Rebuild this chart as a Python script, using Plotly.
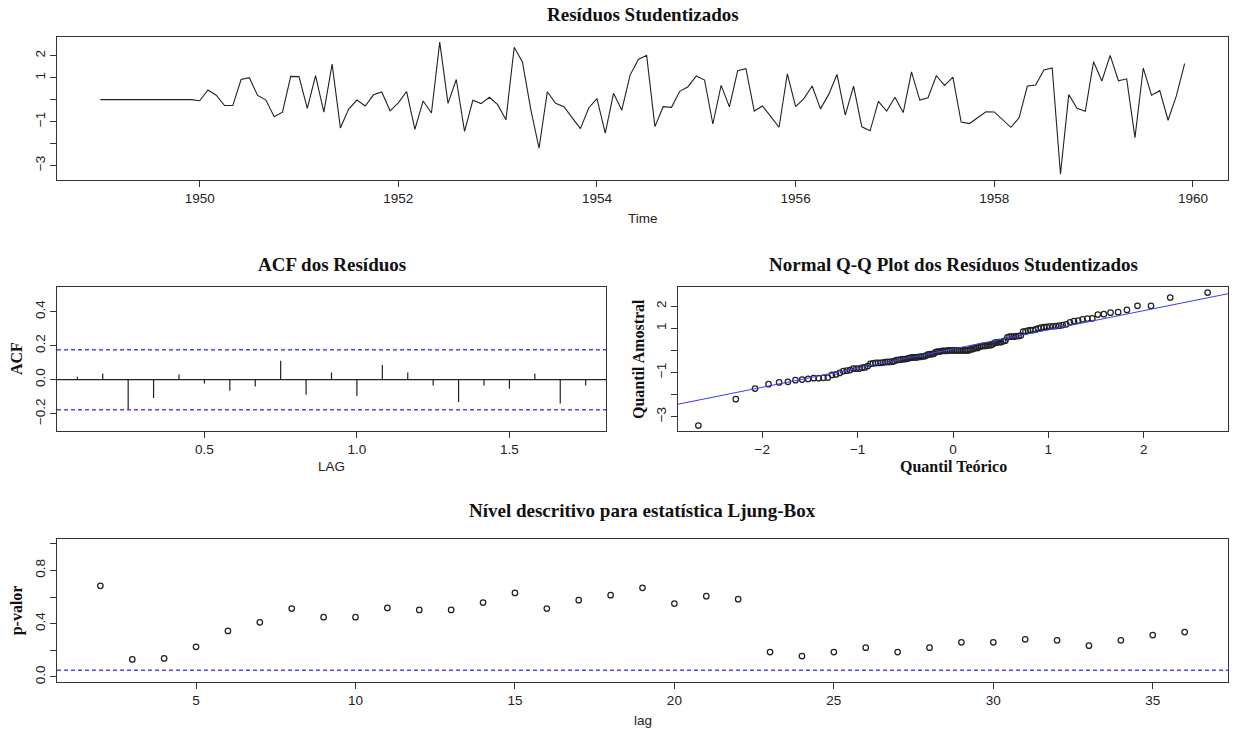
import numpy as np
import plotly.graph_objects as go
from statistics import NormalDist

# ---------------- data ----------------
ts_start = 1949
ts_freq = 12
residuals = [
    0.0, 0.0, 0.0, 0.0, 0.0, 0.0, 0.0, 0.0, 0.0, 0.0, 0.0, 0.0,
    -0.05, 0.44, 0.20, -0.27, -0.27, 0.92, 1.00, 0.19, -0.02, -0.78, -0.57, 1.06,
    1.05, -0.40, 1.10, -0.57, 1.62, -1.29, -0.43, -0.02, -0.29, 0.22, 0.35, -0.51,
    -0.15, 0.37, -1.35, -0.06, -0.61, 2.62, -0.17, 0.92, -1.45, -0.03, -0.18, 0.11,
    -0.23, -0.92, 2.39, 1.71, -0.44, -2.21, 0.36, -0.17, -0.32, -0.82, -1.32, -0.38,
    0.05, -1.53, 0.29, -0.48, 1.12, 1.83, 2.02, -1.23, -0.32, -0.35, 0.38, 0.59,
    1.08, 0.89, -1.11, 0.65, -0.33, 1.32, 1.41, -0.52, -0.29, -0.77, -1.26, 1.18,
    -0.32, 0.05, 0.62, -0.42, 0.24, 1.15, -0.71, 0.62, -1.24, -1.42, -0.08, -0.52,
    0.11, -0.59, 1.27, -0.02, 0.09, 1.09, 0.65, 1.03, -1.02, -1.09, -0.83, -0.55,
    -0.56, -0.89, -1.26, -0.83, 0.62, 0.67, 1.35, 1.45, -3.40, 0.23, -0.39, -0.53,
    1.73, 0.85, 2.02, 0.86, 0.95, -1.73, 1.44, 0.20, 0.41, -0.94, 0.17, 1.64,
]

acf_lags = [k / 12 for k in range(1, 22)]
acf_values = [0.018, 0.036, -0.174, -0.107, 0.030, -0.022, -0.065, -0.040, 0.111,
              -0.089, 0.042, -0.095, 0.087, 0.042, -0.034, -0.131, -0.034, -0.053,
              0.036, -0.139, -0.034]
acf_ci = 0.176

lb_lags = list(range(2, 37))
lb_pvalues = [0.684, 0.131, 0.138, 0.226, 0.345, 0.410, 0.513, 0.448, 0.448, 0.518,
              0.503, 0.503, 0.558, 0.631, 0.513, 0.576, 0.614, 0.669, 0.551, 0.606,
              0.584, 0.186, 0.156, 0.186, 0.219, 0.186, 0.219, 0.259, 0.259, 0.282,
              0.274, 0.234, 0.274, 0.314, 0.337]
lb_level = 0.05

time_ticks = [1950, 1952, 1954, 1956, 1958, 1960]
res_ticks = [-3, -2, -1, 0, 1, 2]
res_ticktext = ["\u22123", "", "\u22121", "", "1", "2"]
acf_xticks = [0.5, 1.0, 1.5]
acf_xticktext = ["0.5", "1.0", "1.5"]
acf_yticks = [-0.2, 0.0, 0.2, 0.4]
acf_yticktext = ["\u22120.2", "0.0", "0.2", "0.4"]
qq_xticks = [-2, -1, 0, 1, 2]
qq_xticktext = ["\u22122", "\u22121", "0", "1", "2"]
lb_xticks = [5, 10, 15, 20, 25, 30, 35]
lb_yticks = [0.0, 0.2, 0.4, 0.6, 0.8, 1.0]
lb_yticktext = ["0.0", "", "0.4", "", "0.8", ""]

# ---------------- derived ----------------
res = np.array(residuals)
n = len(res)
times = ts_start + np.arange(n) / ts_freq
nd = NormalDist()
theo = np.array([nd.inv_cdf((i + 0.5) / n) for i in range(n)])
sample_sorted = np.sort(res)
q1, q3 = np.quantile(res, [0.25, 0.75])
x1, x3 = nd.inv_cdf(0.25), nd.inv_cdf(0.75)
slope = (q3 - q1) / (x3 - x1)
intercept = q1 - slope * x1


def ext(a, b, f=0.04):
    d = (b - a) * f
    return [a - d, b + d]


W, H = 1235, 732


def px(x):
    return x / W


def py(y):
    return 1 - y / H


SANS = "Liberation Sans, Arial, sans-serif"
SERIF = "Liberation Serif, Times New Roman, serif"
INK = "#222222"
BLUE = "#4a4aff"

fig = go.Figure()

# Top: residual time series
fig.add_trace(go.Scatter(x=times, y=res, mode="lines",
                         line=dict(color=INK, width=1.1),
                         xaxis="x", yaxis="y", showlegend=False, hoverinfo="skip"))

# ACF spikes
sx, sy = [], []
for l, v in zip(acf_lags, acf_values):
    sx += [l, l, None]
    sy += [0, v, None]
fig.add_trace(go.Scatter(x=sx, y=sy, mode="lines", line=dict(color=INK, width=1.2),
                         xaxis="x2", yaxis="y2", showlegend=False, hoverinfo="skip"))

marker_style = dict(symbol="circle-open", size=5.5, color=INK,
                    line=dict(width=1.25, color=INK))

# QQ points
fig.add_trace(go.Scatter(x=theo, y=sample_sorted, mode="markers",
                         marker=marker_style,
                         xaxis="x3", yaxis="y3", showlegend=False, hoverinfo="skip"))

# LB points
fig.add_trace(go.Scatter(x=lb_lags, y=lb_pvalues, mode="markers",
                         marker=marker_style,
                         xaxis="x4", yaxis="y4", showlegend=False, hoverinfo="skip"))

top_xr = ext(times.min(), times.max())
top_yr = ext(res.min(), res.max())
acf_xr = ext(min(acf_lags), max(acf_lags))
acf_yr = [-0.30, 0.543]
qq_xr = ext(theo.min(), theo.max())
qq_yr = ext(res.min(), res.max())
lb_xr = ext(min(lb_lags), max(lb_lags))
lb_yr = ext(0, 1)

# QQ line across full plot
fig.add_trace(go.Scatter(x=qq_xr, y=[intercept + slope * v for v in qq_xr], mode="lines",
                         line=dict(color="#3a3aff", width=1),
                         xaxis="x3", yaxis="y3", showlegend=False, hoverinfo="skip"))

shapes = []
# ACF zero line and confidence lines
shapes.append(dict(type="line", xref="x2 domain", yref="y2", x0=0, x1=1, y0=0, y1=0,
                   line=dict(color=INK, width=1.2)))
for c in (acf_ci, -acf_ci):
    shapes.append(dict(type="line", xref="x2 domain", yref="y2", x0=0, x1=1, y0=c, y1=c,
                       line=dict(color=BLUE, width=1.5, dash="4px,3px")))
shapes.append(dict(type="line", xref="x4 domain", yref="y4", x0=0, x1=1, y0=lb_level, y1=lb_level,
                   line=dict(color=BLUE, width=1.5, dash="4px,3px")))

axis_common = dict(showgrid=False, zeroline=False, showline=True, mirror=True,
                   linecolor="#333333", linewidth=1.2, ticks="outside", ticklen=6,
                   tickcolor="#333333", tickwidth=1.1,
                   tickfont=dict(family=SANS, size=13.5, color=INK))

layout = dict(
    width=W, height=H, autosize=False,
    margin=dict(l=0, r=0, t=0, b=0),
    paper_bgcolor="white", plot_bgcolor="white",
    xaxis=dict(domain=[px(57), px(1228)], anchor="y", range=top_xr,
               tickvals=time_ticks, **axis_common),
    yaxis=dict(domain=[py(180), py(37)], anchor="x", range=top_yr,
               tickvals=res_ticks, ticktext=res_ticktext, tickangle=-90, **axis_common),
    xaxis2=dict(domain=[px(57), px(606)], anchor="y2", range=acf_xr,
                tickvals=acf_xticks, ticktext=acf_xticktext, **axis_common),
    yaxis2=dict(domain=[py(432), py(288)], anchor="x2", range=acf_yr,
                tickvals=acf_yticks, ticktext=acf_yticktext, tickangle=-90, **axis_common),
    xaxis3=dict(domain=[px(678), px(1228)], anchor="y3", range=qq_xr,
                tickvals=qq_xticks, ticktext=qq_xticktext, **axis_common),
    yaxis3=dict(domain=[py(432), py(288)], anchor="x3", range=qq_yr,
                tickvals=res_ticks, ticktext=res_ticktext, tickangle=-90, **axis_common),
    xaxis4=dict(domain=[px(57), px(1228)], anchor="y4", range=lb_xr,
                tickvals=lb_xticks, **axis_common),
    yaxis4=dict(domain=[py(684), py(540)], anchor="x4", range=lb_yr,
                tickvals=lb_yticks, ticktext=lb_yticktext, tickangle=-90, **axis_common),
    shapes=shapes,
)
fig.update_layout(**layout)

title_font = dict(family=SERIF, size=19, color="#111111")
lab_bold = dict(family=SERIF, size=16, color="#111111")
lab_sans = dict(family=SANS, size=13.5, color=INK)


def ann(text, x, y, font, angle=0):
    fig.add_annotation(text=text, x=px(x), y=py(y), xref="paper", yref="paper",
                       showarrow=False, font=font, textangle=angle,
                       xanchor="center", yanchor="middle")


ann("<b>Resíduos Studentizados</b>", 642.5, 15, title_font)
ann("<b>ACF dos Resíduos</b>", 331.5, 265, title_font)
ann("<b>Normal Q-Q Plot dos Resíduos Studentizados</b>", 953, 265, title_font)
ann("<b>Nível descritivo para estatística Ljung-Box</b>", 642.5, 512, title_font)
ann("Time", 642.5, 219, lab_sans)
ann("LAG", 331.5, 468, lab_sans)
ann("<b>Quantil Teórico</b>", 953, 468, lab_bold)
ann("lag", 642.5, 722, lab_sans)
ann("<b>ACF</b>", 16, 360, lab_bold, -90)
ann("<b>Quantil Amostral</b>", 638, 360, lab_bold, -90)
ann("<b>p-valor</b>", 17, 612, lab_bold, -90)

fig.write_html("out.html")
